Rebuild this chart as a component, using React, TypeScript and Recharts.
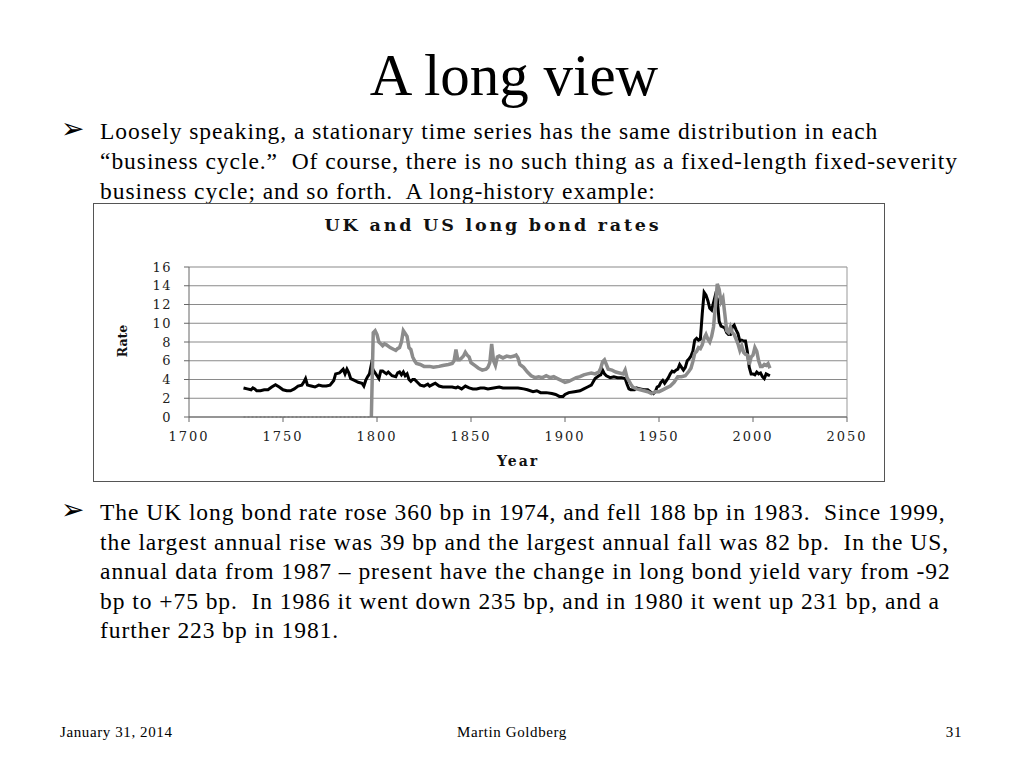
import React from 'react';
import { LineChart, Line, XAxis, YAxis, CartesianGrid, ReferenceLine } from 'recharts';

const ukYears = [1729,1731,1733,1734,1735,1736,1738,1740,1742,1744,1746,1748,1750,1752,1754,1756,1758,1760,1761,1762,1763,1765,1767,1769,1771,1773,1775,1777,1778,1780,1781,1782,1783,1784,1785,1786,1788,1790,1792,1793,1794,1795,1796,1797,1798,1799,1800,1801,1802,1803,1805,1806,1808,1810,1811,1812,1813,1814,1815,1816,1817,1818,1819,1820,1822,1823,1825,1827,1828,1830,1831,1833,1835,1838,1840,1842,1843,1845,1847,1849,1851,1853,1855,1857,1859,1862,1865,1867,1870,1875,1878,1880,1883,1885,1887,1890,1893,1895,1897,1899,1900,1902,1905,1908,1910,1912,1914,1916,1918,1919,1920,1921,1922,1924,1926,1928,1930,1932,1933,1934,1935,1937,1938,1940,1942,1944,1946,1947,1948,1949,1950,1951,1952,1953,1955,1956,1957,1958,1959,1960,1961,1962,1963,1964,1965,1966,1967,1968,1969,1970,1971,1972,1973,1974,1975,1976,1977,1978,1979,1980,1981,1982,1983,1984,1985,1986,1987,1988,1989,1990,1991,1992,1993,1994,1995,1996,1997,1998,1999,2000,2001,2002,2003,2004,2005,2006,2007,2008,2009];
const ukRates = [3.1,3.0,2.9,3.1,3.0,2.8,2.8,2.9,2.9,3.2,3.45,3.2,2.9,2.8,2.8,3.0,3.3,3.4,3.7,4.1,3.4,3.3,3.2,3.4,3.3,3.3,3.4,3.9,4.6,4.7,4.9,5.1,4.6,5.1,4.7,4.1,3.9,3.7,3.6,3.3,3.9,4.3,4.6,5.6,5.0,4.7,4.4,4.1,4.9,4.9,4.6,4.8,4.4,4.3,4.7,4.8,4.5,4.8,4.4,4.6,4.0,3.8,4.0,4.0,3.6,3.4,3.3,3.5,3.3,3.5,3.6,3.3,3.2,3.2,3.2,3.1,3.2,3.0,3.3,3.1,3.0,3.0,3.1,3.1,3.0,3.1,3.2,3.1,3.1,3.1,3.0,2.9,2.7,2.8,2.6,2.6,2.5,2.4,2.2,2.2,2.4,2.6,2.7,2.8,3.0,3.2,3.4,4.1,4.4,4.5,5.0,4.6,4.4,4.2,4.3,4.2,4.2,4.1,3.5,3.0,2.9,2.9,3.1,3.0,2.9,2.9,2.6,2.5,2.7,3.2,3.3,3.7,3.9,3.6,4.2,4.6,4.9,4.8,5.0,5.1,5.6,5.3,5.0,5.3,6.0,6.2,6.5,7.0,8.2,8.4,8.2,8.3,11.0,13.3,13.0,12.4,11.6,11.4,12.2,13.0,12.6,10.2,9.7,9.6,9.5,9.0,8.8,8.8,9.6,9.8,9.3,8.9,8.1,8.2,8.1,8.1,7.0,5.3,4.6,4.6,4.5,4.8,4.6,4.7,4.3,4.1,4.6,4.5,4.4];

const usYears = [1797,1798,1799,1800,1801,1802,1803,1804,1805,1807,1809,1810,1811,1812,1813,1814,1815,1816,1817,1818,1819,1820,1821,1823,1825,1828,1830,1833,1835,1838,1840,1841,1842,1843,1844,1845,1846,1847,1848,1849,1850,1852,1854,1856,1858,1859,1860,1861,1862,1863,1864,1865,1867,1869,1871,1873,1874,1875,1876,1878,1880,1882,1884,1886,1888,1890,1892,1894,1896,1898,1900,1902,1904,1906,1908,1910,1912,1914,1916,1918,1919,1920,1921,1922,1923,1925,1927,1929,1931,1932,1933,1935,1936,1938,1940,1942,1944,1946,1948,1950,1952,1954,1956,1958,1960,1962,1964,1966,1967,1968,1969,1970,1971,1972,1973,1974,1975,1976,1977,1978,1979,1980,1981,1982,1983,1984,1985,1986,1987,1988,1989,1990,1991,1992,1993,1994,1995,1996,1997,1998,1999,2000,2001,2002,2003,2004,2005,2006,2007,2008,2009];
const usRates = [0,9.0,9.2,8.8,8.0,7.8,7.6,7.8,7.7,7.4,7.2,7.1,7.3,7.4,8.0,9.2,8.9,8.6,7.4,7.2,6.4,6.0,5.7,5.6,5.4,5.4,5.3,5.4,5.5,5.6,5.7,6.0,7.2,6.1,6.1,6.3,6.5,6.9,6.6,6.4,5.8,5.5,5.2,5.0,5.1,5.3,5.8,7.8,6.0,5.5,6.4,6.5,6.3,6.5,6.4,6.5,6.6,6.3,5.6,5.3,4.8,4.4,4.2,4.3,4.2,4.4,4.2,4.3,4.1,3.9,3.7,3.8,4.0,4.2,4.3,4.5,4.6,4.7,4.6,4.8,5.2,5.9,6.1,5.6,5.1,5.0,4.8,4.7,4.6,5.0,4.2,3.5,3.2,3.0,2.9,2.8,2.7,2.5,2.7,2.7,2.9,3.1,3.3,3.7,4.3,4.3,4.4,4.9,5.2,5.9,6.8,7.0,7.4,7.3,7.7,8.4,8.8,8.3,8.0,8.6,9.6,11.8,14.2,13.6,12.3,12.7,11.0,9.2,9.0,9.6,9.0,8.8,8.3,7.8,7.1,7.6,6.9,6.7,6.6,5.6,6.4,6.6,7.4,7.0,6.0,5.4,5.4,5.6,5.5,5.7,5.2];

const usZeroYears = [1729, 1797];
const usZeroRates = [0, 0];

const xTicks = [1700, 1750, 1800, 1850, 1900, 1950, 2000, 2050];
const yTicks = [0, 2, 4, 6, 8, 10, 12, 14, 16];

const ukData = ukYears.map((year, i) => ({ year, rate: ukRates[i] }));
const usData = usYears.map((year, i) => ({ year, rate: usRates[i] }));
const usZeroData = usZeroYears.map((year, i) => ({ year, rate: usZeroRates[i] }));

const bullet1 = [
  'Loosely speaking, a stationary time series has the same distribution in each',
  '\u201Cbusiness cycle.\u201D  Of course, there is no such thing as a fixed-length fixed-severity',
  'business cycle; and so forth.  A long-history example:',
];
const bullet2 = [
  'The UK long bond rate rose 360 bp in 1974, and fell 188 bp in 1983.  Since 1999,',
  'the largest annual rise was 39 bp and the largest annual fall was 82 bp.  In the US,',
  'annual data from 1987 \u2013 present have the change in long bond yield vary from -92',
  'bp to +75 bp.  In 1986 it went down 235 bp, and in 1980 it went up 231 bp, and a',
  'further 223 bp in 1981.',
];

const serif = '"Liberation Serif", "Times New Roman", serif';
const chartFont = '"DejaVu Serif", serif';

const textLine = (t: string, top: number, key: string) => (
  <div
    key={key}
    style={{
      position: 'absolute',
      left: 100,
      top,
      fontFamily: serif,
      fontSize: 23.5,
      letterSpacing: 0.95,
      lineHeight: '30px',
      whiteSpace: 'pre',
      color: '#000',
    }}
  >
    {t}
  </div>
);

const arrow = (top: number) => (
  <div
    style={{
      position: 'absolute',
      left: 61,
      top,
      fontFamily: '"DejaVu Sans", sans-serif',
      fontSize: 28,
      lineHeight: '30px',
      color: '#000',
    }}
  >
    {'\u27A2'}
  </div>
);

export default function App() {
  return (
    <div style={{ position: 'absolute', left: 0, top: 0, width: 1024, height: 768, background: '#fff', overflow: 'hidden' }}>
      <div
        style={{
          position: 'absolute',
          left: 0,
          width: 1024,
          top: 40,
          textAlign: 'center',
          fontFamily: serif,
          fontSize: 59,
          lineHeight: '70px',
          color: '#000',
          paddingLeft: 2,
        }}
      >
        A long view
      </div>

      {arrow(114)}
      {bullet1.map((t, i) => textLine(t, 116 + i * 30, 'a' + i))}

      {arrow(495)}
      {bullet2.map((t, i) => textLine(t, 497 + i * 29.5, 'b' + i))}

      <div
        style={{
          position: 'absolute',
          left: 93,
          top: 203,
          width: 792,
          height: 279,
          boxSizing: 'border-box',
          border: '1px solid #555',
          background: '#fff',
        }}
      >
        <div style={{ position: 'absolute', left: 0, top: 0 }}>
          <LineChart
            width={790}
            height={277}
            margin={{ top: 63, right: 37, left: 0, bottom: 0 }}
          >
            <CartesianGrid vertical={false} stroke="#8a8a8a" strokeWidth={1.2} />
            <XAxis
              type="number"
              dataKey="year"
              domain={[1700, 2050]}
              ticks={xTicks}
              interval={0}
              allowDataOverflow
              height={64}
              tickSize={5}
              tickMargin={10}
              stroke="#666"
              tick={{ fontFamily: chartFont, fontSize: 13, fill: '#222', letterSpacing: 2 }}
            />
            <YAxis
              type="number"
              domain={[0, 16]}
              ticks={yTicks}
              interval={0}
              width={95}
              tickSize={5}
              tickMargin={12}
              stroke="#666"
              tick={{ fontFamily: chartFont, fontSize: 13, fill: '#222', letterSpacing: 1.5 }}
            />
            <ReferenceLine x={2050} stroke="#999" />
            <Line
              data={usZeroData}
              dataKey="rate"
              stroke="#777"
              strokeWidth={1}
              strokeDasharray="2 2"
              dot={false}
              isAnimationActive={false}
            />
            <Line
              data={ukData}
              dataKey="rate"
              stroke="#000"
              strokeWidth={3}
              dot={false}
              isAnimationActive={false}
            />
            <Line
              data={usData}
              dataKey="rate"
              stroke="#8c8c8c"
              strokeWidth={3.5}
              dot={false}
              isAnimationActive={false}
            />
          </LineChart>
        </div>
        <div
          style={{
            position: 'absolute',
            left: 0,
            width: 790,
            top: 11,
            textAlign: 'center',
            fontFamily: chartFont,
            fontWeight: 'bold',
            fontSize: 17.5,
            letterSpacing: 2.8,
            color: '#111',
            paddingLeft: 4,
            whiteSpace: 'nowrap',
          }}
        >
          UK and US long bond rates
        </div>
        <div
          style={{
            position: 'absolute',
            left: 403,
            top: 249,
            fontFamily: chartFont,
            fontWeight: 'bold',
            fontSize: 14,
            letterSpacing: 2,
            color: '#111',
          }}
        >
          Year
        </div>
        <div
          style={{
            position: 'absolute',
            left: 28,
            top: 137,
            transform: 'translate(-50%, -50%) rotate(-90deg)',
            fontFamily: chartFont,
            fontWeight: 'bold',
            fontSize: 12.5,
            color: '#111',
          }}
        >
          Rate
        </div>
      </div>

      <div style={{ position: 'absolute', left: 60, top: 724, fontFamily: serif, fontSize: 15, letterSpacing: 0.6, color: '#000' }}>
        January 31, 2014
      </div>
      <div style={{ position: 'absolute', left: 0, width: 1024, top: 724, textAlign: 'center', fontFamily: serif, fontSize: 15, letterSpacing: 0.6, color: '#000' }}>
        Martin Goldberg
      </div>
      <div style={{ position: 'absolute', left: 930, width: 32, top: 724, textAlign: 'right', fontFamily: serif, fontSize: 15, letterSpacing: 0.6, color: '#000' }}>
        31
      </div>
    </div>
  );
}
